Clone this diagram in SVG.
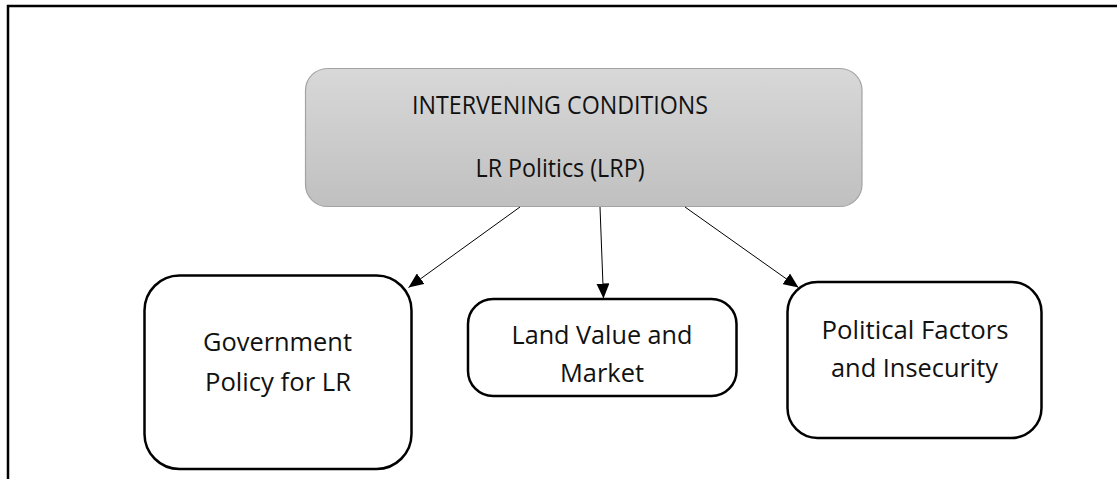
<svg xmlns="http://www.w3.org/2000/svg" width="1117" height="479" viewBox="0 0 1117 479">
  <style>
    .label { font-family: "Open Sans", Lato, "Liberation Sans", sans-serif; font-size: 26px; font-variant-ligatures: none; fill: #111; text-anchor: middle; }
    .box { fill: #fff; stroke: #000; stroke-width: 2.5; }
    .edge { stroke: #000; stroke-width: 1; fill: none; marker-end: url(#arrow); }
    .frame { stroke: #000; stroke-width: 2.5; fill: none; }
  </style>
  <defs>
    <linearGradient id="greyFill" x1="0" y1="0" x2="0" y2="1">
      <stop offset="0" stop-color="#d8d8d8"/>
      <stop offset="1" stop-color="#c0c0c0"/>
    </linearGradient>
    <marker id="arrow" viewBox="0 0 15 13" refX="15" refY="6.5" markerWidth="15" markerHeight="13" markerUnits="userSpaceOnUse" orient="auto">
      <path d="M0,0 L15,6.5 L0,13 Z" fill="#000"/>
    </marker>
  </defs>

  <rect width="1117" height="479" fill="#fff"/>

  <!-- outer frame: top and left edges only -->
  <path class="frame" d="M8,479 L8,6 L1117,6"/>

  <g id="intervening-conditions">
    <rect x="305.5" y="68.5" width="556.5" height="138" rx="22" ry="22" fill="url(#greyFill)" stroke="#a3a3a3" stroke-width="1.2"/>
    <text class="label" x="560" y="113.5" textLength="296" lengthAdjust="spacingAndGlyphs">INTERVENING CONDITIONS</text>
    <text class="label" x="560" y="177" textLength="169" lengthAdjust="spacingAndGlyphs">LR Politics (LRP)</text>
  </g>

  <g id="government-policy">
    <rect class="box" x="144.5" y="275.5" width="267" height="193.5" rx="35" ry="35"/>
    <text class="label" x="277.5" y="350.5" textLength="149" lengthAdjust="spacingAndGlyphs">Government</text>
    <text class="label" x="278" y="390.5" textLength="146" lengthAdjust="spacingAndGlyphs">Policy for LR</text>
  </g>

  <g id="land-value-market">
    <rect class="box" x="468" y="299" width="268.5" height="97" rx="25" ry="25"/>
    <text class="label" x="602" y="343.8" textLength="181" lengthAdjust="spacingAndGlyphs">Land Value and</text>
    <text class="label" x="602" y="382.2" textLength="84" lengthAdjust="spacingAndGlyphs">Market</text>
  </g>

  <g id="political-factors">
    <rect class="box" x="787.5" y="282" width="254" height="156" rx="30" ry="30"/>
    <text class="label" x="915" y="338.8" textLength="187" lengthAdjust="spacingAndGlyphs">Political Factors</text>
    <text class="label" x="914.5" y="377.2" textLength="167" lengthAdjust="spacingAndGlyphs">and Insecurity</text>
  </g>

  <g id="connectors">
    <line class="edge" x1="520" y1="207" x2="408.5" y2="287.5"/>
    <line class="edge" x1="600" y1="207" x2="603.5" y2="298.5"/>
    <line class="edge" x1="685" y1="207" x2="798.5" y2="287.5"/>
  </g>
</svg>
